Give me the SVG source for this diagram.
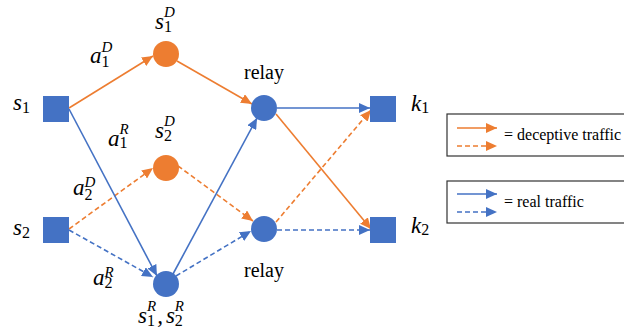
<svg xmlns="http://www.w3.org/2000/svg" width="624" height="335" viewBox="0 0 624 335">
<defs>
<marker id="ao" markerUnits="userSpaceOnUse" markerWidth="12" markerHeight="10" refX="11" refY="5" orient="auto"><path d="M0,0 L11,5 L0,10 Z" fill="#ED7D31"/></marker>
<marker id="ab" markerUnits="userSpaceOnUse" markerWidth="12" markerHeight="10" refX="11" refY="5" orient="auto"><path d="M0,0 L11,5 L0,10 Z" fill="#4472C4"/></marker>
</defs>
<g id="connectors" stroke-width="1.6" fill="none">
<g stroke="#ED7D31" marker-end="url(#ao)">
<line x1="69" y1="108" x2="153" y2="56"/>
<line x1="177" y1="61" x2="252" y2="104"/>
<line x1="276" y1="114" x2="371" y2="229"/>
<g stroke-dasharray="5,3">
<line x1="69" y1="229" x2="153" y2="168"/>
<line x1="178" y1="166" x2="253" y2="221"/>
<line x1="276" y1="222" x2="371" y2="110"/>
</g>
</g>
<g stroke="#4472C4" marker-end="url(#ab)">
<line x1="277" y1="108" x2="370" y2="108"/>
<line x1="69" y1="109" x2="157" y2="276"/>
<line x1="173" y1="274" x2="257" y2="118"/>
<g stroke-dasharray="5,3">
<line x1="69" y1="230" x2="153" y2="277"/>
<line x1="176" y1="276" x2="251" y2="231"/>
<line x1="277" y1="230" x2="370" y2="230"/>
</g>
</g>
</g>
<g id="s1"><rect fill="#4472C4" x="43" y="96" width="26" height="26"/><text font-family="Liberation Serif" font-style="italic" font-size="23" x="13" y="110">s<tspan font-style="normal" font-size="16" dy="3">1</tspan></text></g>
<g id="s2"><rect fill="#4472C4" x="43" y="217" width="26" height="26"/><text font-family="Liberation Serif" font-style="italic" font-size="23" x="13" y="235">s<tspan font-style="normal" font-size="16" dy="3">2</tspan></text></g>
<g id="s1D"><circle fill="#ED7D31" cx="166" cy="54" r="13"/><text font-family="Liberation Serif" font-style="italic" font-size="23" x="155" y="29">s<tspan font-style="normal" font-size="16" dy="3">1</tspan><tspan font-size="15" dx="-8" dy="-15">D</tspan></text></g>
<g id="s2D"><circle fill="#ED7D31" cx="166" cy="168" r="13"/><text font-family="Liberation Serif" font-style="italic" font-size="23" x="155" y="138">s<tspan font-style="normal" font-size="16" dy="3">2</tspan><tspan font-size="15" dx="-8" dy="-15">D</tspan></text></g>
<g id="sR"><circle fill="#4472C4" cx="166" cy="284" r="13"/><text font-family="Liberation Serif" font-style="italic" font-size="23" x="138" y="323">s<tspan font-style="normal" font-size="16" dy="3">1</tspan><tspan font-size="15" dx="-8" dy="-15">R</tspan><tspan dy="12" dx="1">,</tspan><tspan dx="3">s</tspan><tspan font-style="normal" font-size="16" dy="3">2</tspan><tspan font-size="15" dx="-8" dy="-15">R</tspan></text></g>
<g id="k1"><rect fill="#4472C4" x="370" y="96" width="26" height="26"/><text font-family="Liberation Serif" font-style="italic" font-size="23" x="411" y="111">k<tspan font-style="normal" font-size="16" dy="2">1</tspan></text></g>
<g id="k2"><rect fill="#4472C4" x="370" y="217" width="26" height="26"/><text font-family="Liberation Serif" font-style="italic" font-size="23" x="411" y="233">k<tspan font-style="normal" font-size="16" dy="2">2</tspan></text></g>
<g id="labels">
<text font-family="Liberation Serif" font-style="italic" font-size="23" x="90" y="63">a<tspan font-style="normal" font-size="16" dy="4">1</tspan><tspan font-size="15" dx="-8" dy="-15">D</tspan></text>
<text font-family="Liberation Serif" font-style="italic" font-size="23" x="108" y="146">a<tspan font-style="normal" font-size="16" dy="2">1</tspan><tspan font-size="15" dx="-8" dy="-14">R</tspan></text>
<text font-family="Liberation Serif" font-style="italic" font-size="23" x="73" y="195">a<tspan font-style="normal" font-size="16" dy="5">2</tspan><tspan font-size="15" dx="-8" dy="-13">D</tspan></text>
<text font-family="Liberation Serif" font-style="italic" font-size="23" x="93" y="285">a<tspan font-style="normal" font-size="16" dy="3">2</tspan><tspan font-size="15" dx="-8" dy="-11">R</tspan></text>
</g>
<g id="relay1"><circle fill="#4472C4" cx="264" cy="108" r="13"/><text font-family="Liberation Serif" font-size="20" x="264" y="79" text-anchor="middle">relay</text></g>
<g id="relay2"><circle fill="#4472C4" cx="264" cy="229" r="13"/><text font-family="Liberation Serif" font-size="20" x="264" y="277" text-anchor="middle">relay</text></g>
<g id="legend1"><rect fill="#fff" stroke="#333" stroke-width="1.2" x="447" y="114" width="190" height="42"/><g stroke="#ED7D31" stroke-width="1.6" marker-end="url(#ao)"><line x1="457" y1="128" x2="497" y2="128"/><line stroke-dasharray="5,3" x1="457" y1="146" x2="497" y2="146"/></g><text font-family="Liberation Serif" font-size="16" x="504" y="140">= deceptive traffic</text></g>
<g id="legend2"><rect fill="#fff" stroke="#333" stroke-width="1.2" x="447" y="181" width="190" height="42"/><g stroke="#4472C4" stroke-width="1.6" marker-end="url(#ab)"><line x1="457" y1="194" x2="497" y2="194"/><line stroke-dasharray="5,3" x1="457" y1="212" x2="497" y2="212"/></g><text font-family="Liberation Serif" font-size="16" x="504" y="207">= real traffic</text></g>
</svg>
